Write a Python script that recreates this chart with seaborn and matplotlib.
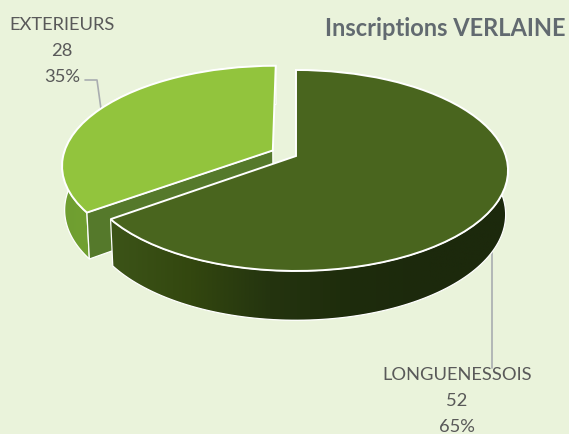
import numpy as np
import matplotlib
matplotlib.use("Agg")
import matplotlib.pyplot as plt
import seaborn as sns
from matplotlib.colors import LinearSegmentedColormap
from matplotlib.patches import Polygon
from matplotlib.transforms import Transform

# Data:
categories = ["LONGUENESSOIS", "EXTERIEURS"]
values = [52, 28]
explode = [0, 0.125]
title = "Inscriptions VERLAINE"

# Colors:
bg = "#EAF3DB"
top_colors = ["#49651E", "#92C43D"]
text_color = "#595959"
line_color = "#A9ADB0"
cut_color = "#55792B"

sns.set_theme(style="white")
plt.rcParams["font.family"] = ["Lato", "DejaVu Sans"]

# Perspective seen from above, pie units to pixels:
def project(xy, z=0.0):
  xy = np.asarray(xy, dtype=float)
  u = xy[:, 0]
  v = -xy[:, 1]
  w = 1 - 0.144 * v + 0.011 * z
  return np.column_stack([296 + 209.8 * u / w,
                          157 + (98.4 * v + 44 * z) / w])


class Perspective(Transform):
  input_dims = 2
  output_dims = 2
  is_separable = False

  def transform_non_affine(self, values):
    return project(values)


# Define figure:
fig, ax = plt.subplots(figsize=(5.69, 4.35), dpi=100)
fig.patch.set_facecolor(bg)
ax.set_position([0, 0, 1, 1])

wedges, _ = ax.pie(values,
                   explode=explode,
                   colors=top_colors,
                   startangle=90,
                   counterclock=False,
                   wedgeprops={"edgecolor": "white", "linewidth": 1.4})


def arc_points(wedge):
  t = np.radians(np.linspace(wedge.theta1, wedge.theta2, 160))
  return np.asarray(wedge.center) + wedge.r * np.column_stack([np.cos(t), np.sin(t)])


def gradient_wall(pts, stops, zorder):
  # Outer wall of a slice, filled with a left to right gradient
  wall = np.vstack([project(pts), project(pts[::-1], 1)])
  patch = Polygon(wall, closed=True, facecolor="none", edgecolor="white",
                  linewidth=0.9, zorder=zorder + 0.1)
  ax.add_patch(patch)
  cmap = LinearSegmentedColormap.from_list("wall", stops)
  im = ax.imshow(np.linspace(0, 1, 256).reshape(1, -1),
                 extent=(wall[:, 0].min(), wall[:, 0].max(),
                         wall[:, 1].max(), wall[:, 1].min()),
                 aspect="auto", cmap=cmap, zorder=zorder)
  im.set_clip_path(patch)


big, small = wedges

# Small slice first, it sits behind the big one:
gradient_wall(arc_points(small), ["#6F9E30", "#7FB037"], 2)
corner = arc_points(small)[-1]
apex = np.asarray(small.center)
cut = np.vstack([project([corner, apex]), project([apex, corner], 1)])
ax.add_patch(Polygon(cut, closed=True, facecolor=cut_color, edgecolor="white",
                     linewidth=0.9, zorder=3))
small.set_transform(Perspective() + ax.transData)
small.set_zorder(4)

gradient_wall(arc_points(big),
              ["#3C5418", "#33470F", "#24340F", "#1E2C0C", "#1C290C", "#1C290C"], 5)
big.set_transform(Perspective() + ax.transData)
big.set_zorder(6)

ax.set_aspect("auto")
ax.set_xlim(0, 569)
ax.set_ylim(435, 0)
ax.axis("off")

# Leader lines:
ax.plot([85, 97, 101], [81, 81, 110], color=line_color, lw=1.2, zorder=1)
ax.plot([492, 492], [250, 369], color=line_color, lw=1.2, zorder=1)

# Labels:
percents = [f"{v / sum(values):.0%}" for v in values]
label_pos = [(457, 375), (62, 25)]
for name, val, pct, (x, y) in zip(categories, values, percents, label_pos):
  for i, s in enumerate([name, str(val), pct]):
    ax.text(x, y + i * 26, s, ha="center", va="center",
            size=13.2, color=text_color, zorder=7)

ax.text(566, 28, title, ha="right", va="center", size=17,
        fontweight="bold", color="#626A70", zorder=7)

plt.savefig("out.png", dpi=100, facecolor=bg)
